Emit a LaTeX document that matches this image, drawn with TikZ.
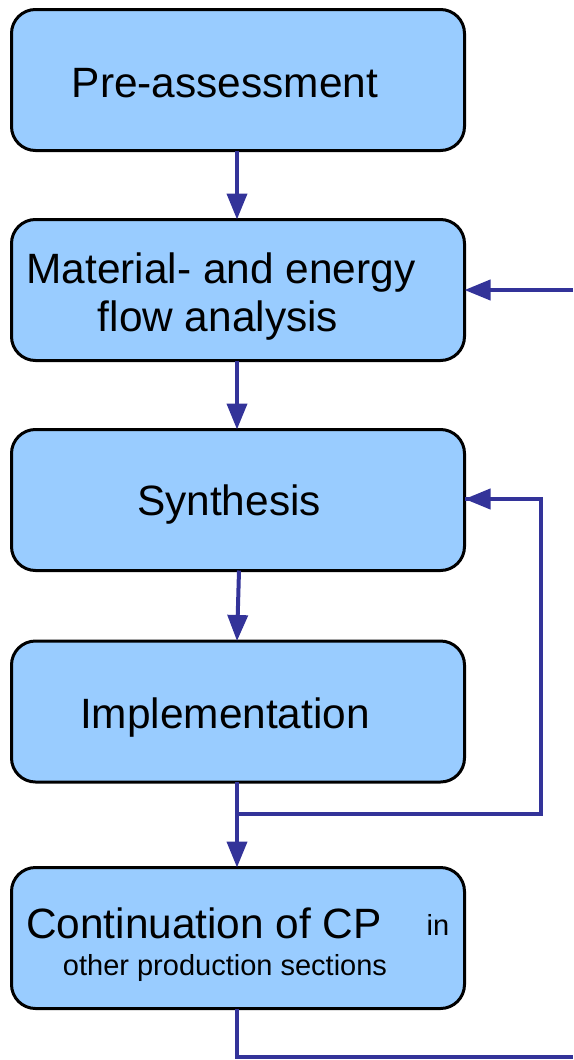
\documentclass[tikz,border=0pt]{standalone}
\usepackage{fontspec}
\setmainfont{Liberation Sans}
\usetikzlibrary{arrows.meta}
\definecolor{boxblue}{HTML}{99CCFF}
\definecolor{flowblue}{HTML}{333399}
\tikzset{
  stage/.style={draw=black, line width=3pt, fill=boxblue, rounded corners=24pt,
    minimum width=453pt, minimum height=141pt, inner sep=0pt, outer sep=0pt},
  big/.style={anchor=base, inner sep=0pt, font=\fontsize{42.4}{48}\selectfont},
  small/.style={anchor=base, inner sep=0pt, font=\fontsize{29}{34}\selectfont},
  flow/.style={draw=flowblue, line width=4pt, -{Triangle[length=26pt,width=20pt]}},
  line/.style={draw=flowblue, line width=4pt}
}
\begin{document}
\begin{tikzpicture}[x=1pt,y=-1pt]
\useasboundingbox (0,0) rectangle (573,1060);

% process stages
\node[stage] (pre)  at (238,80)    {};
\node[stage] (mat)  at (238,290)   {};
\node[stage] (syn)  at (238,500)   {};
\node[stage] (impl) at (238,711.5) {};
\node[stage] (cont) at (238,938)   {};

% stage labels
\node[big] (tpre)  at (225,97)  {Pre-assessment};
\node[big] (tmat1) at (221,283) {Material- and energy};
\node[big] (tmat2) at (218,331) {flow analysis};
\node[big] (tsyn)  at (229,515) {Synthesis};
\node[big] (timpl) at (225,728) {Implementation};
\node[big] (tcon1) at (204,938) {Continuation of CP};
\node[small] (tcon2) at (438,935) {in};
\node[small] (tcon3) at (225,975) {other production sections};

% helper points for the loops
\coordinate (inR)  at (573,290);
\coordinate (join) at (237,814);
\coordinate (fbR)  at (541,814);
\coordinate (fbT)  at (541,499);
\coordinate (outB) at (237,1057);
\coordinate (outR) at (573,1057);

% main flow
\draw[flow] (pre.south -| 237,0) -- (mat.north -| 237,0);
\draw[flow] (mat.south -| 237,0) -- (syn.north -| 237,0);
\draw[flow] (syn.south -| 239,0) -- (impl.north -| 237,0);
\draw[flow] (impl.south -| 237,0) -- (cont.north -| 237,0);

% external input and feedback loop
\draw[flow] (inR) -- (mat.east);
\draw[line] (join) -- (fbR) -- (fbT) -- (syn.east |- fbT) ;
\draw[flow] (fbT) -- (syn.east |- fbT);

% output
\draw[line] (cont.south -| outB) -- (outB) -- (outR);
\end{tikzpicture}
\end{document}
